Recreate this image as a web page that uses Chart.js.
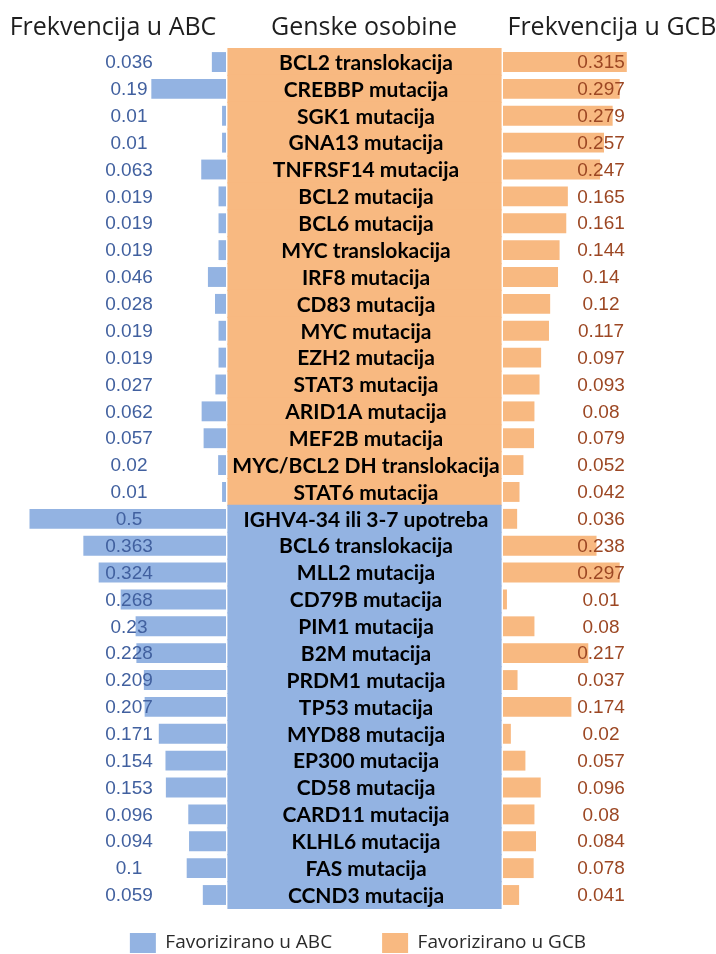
<!DOCTYPE html>
<html>
<head>
<meta charset="utf-8">
<script src="https://cdn.jsdelivr.net/npm/chart.js@4/dist/chart.umd.min.js"></script>
<style>
  html, body { margin: 0; padding: 0; background: #fff; }
</style>
</head>
<body>
<canvas id="chart" width="716" height="954"></canvas>
<script>
// genske osobine, ABC vs GCB

const headers = ['Frekvencija u ABC', 'Genske osobine', 'Frekvencija u GCB'];

const features = [
    'BCL2 translokacija', 'CREBBP mutacija', 'SGK1 mutacija', 'GNA13 mutacija',
    'TNFRSF14 mutacija', 'BCL2 mutacija', 'BCL6 mutacija', 'MYC translokacija',
    'IRF8 mutacija', 'CD83 mutacija', 'MYC mutacija', 'EZH2 mutacija',
    'STAT3 mutacija', 'ARID1A mutacija', 'MEF2B mutacija', 'MYC/BCL2 DH translokacija',
    'STAT6 mutacija', 'IGHV4-34 ili 3-7 upotreba', 'BCL6 translokacija', 'MLL2 mutacija',
    'CD79B mutacija', 'PIM1 mutacija', 'B2M mutacija', 'PRDM1 mutacija',
    'TP53 mutacija', 'MYD88 mutacija', 'EP300 mutacija', 'CD58 mutacija',
    'CARD11 mutacija', 'KLHL6 mutacija', 'FAS mutacija', 'CCND3 mutacija'
];

const freqABC = [
    0.036, 0.19, 0.01, 0.01, 0.063, 0.019, 0.019, 0.019,
    0.046, 0.028, 0.019, 0.019, 0.027, 0.062, 0.057, 0.02,
    0.01, 0.5, 0.363, 0.324, 0.268, 0.23, 0.228, 0.209,
    0.207, 0.171, 0.154, 0.153, 0.096, 0.094, 0.1, 0.059
];

const freqGCB = [
    0.315, 0.297, 0.279, 0.257, 0.247, 0.165, 0.161, 0.144,
    0.14, 0.12, 0.117, 0.097, 0.093, 0.08, 0.079, 0.052,
    0.042, 0.036, 0.238, 0.297, 0.01, 0.08, 0.217, 0.037,
    0.174, 0.02, 0.057, 0.096, 0.08, 0.084, 0.078, 0.041
];

// which group each feature is favoured in
const favoured = [
    'GCB', 'GCB', 'GCB', 'GCB', 'GCB', 'GCB', 'GCB', 'GCB',
    'GCB', 'GCB', 'GCB', 'GCB', 'GCB', 'GCB', 'GCB', 'GCB',
    'GCB', 'ABC', 'ABC', 'ABC', 'ABC', 'ABC', 'ABC', 'ABC',
    'ABC', 'ABC', 'ABC', 'ABC', 'ABC', 'ABC', 'ABC', 'ABC'
];

const legendLabels = ['Favorizirano u ABC', 'Favorizirano u GCB'];

const BLUE = '#93b3e2';
const ORANGE = '#f8b981';

// column geometry (pixels)
const COL = {
    leftEnd: 226, boxL: 228, boxR: 501, rightStart: 503,
    pxPerUnit: 393, rowTop: 48.6, rowH: 26.87,
    leftText: 129, rightText: 601, midText: 366
};

const columnsPlugin = {
    id: 'columns',
    afterLayout(chart) {
        const s = chart.scales;
        const setX = (sc, a, b) => { sc.left = a; sc.right = b; sc.width = b - a; sc.configure(); };
        setX(s.xL, COL.leftEnd - s.xL.max * COL.pxPerUnit, COL.leftEnd);
        setX(s.xM, COL.boxL, COL.boxR);
        setX(s.xR, COL.rightStart, COL.rightStart + s.xR.max * COL.pxPerUnit);
        const y = s.y;
        y.top = COL.rowTop;
        y.bottom = COL.rowTop + features.length * COL.rowH;
        y.height = y.bottom - y.top;
        y.configure();
    },
    afterDatasetsDraw(chart) {
        const ctx = chart.ctx;
        const y = chart.scales.y;
        ctx.save();

        // headers
        ctx.fillStyle = '#1e1e1e';
        ctx.font = '25px "Open Sans"';
        ctx.textAlign = 'center';
        ctx.textBaseline = 'alphabetic';
        ctx.fillText(headers[0], 113, 35);
        ctx.fillText(headers[1], 364, 35);
        ctx.fillText(headers[2], 612, 35);

        ctx.textBaseline = 'middle';
        features.forEach((f, i) => {
            const py = y.getPixelForValue(i);
            ctx.font = 'bold 21px Lato';
            ctx.fillStyle = '#000';
            ctx.fillText(f, COL.midText, py + 1);

            ctx.font = '19px "Liberation Sans"';
            ctx.fillStyle = '#41609f';
            ctx.fillText(String(freqABC[i]), COL.leftText, py + 1);
            ctx.fillStyle = '#9c4723';
            ctx.fillText(String(freqGCB[i]), COL.rightText, py + 1);
        });
        ctx.restore();
    }
};

new Chart(document.getElementById('chart'), {
    type: 'bar',
    data: {
        labels: features,
        datasets: [
            {
                label: legendLabels[0],
                data: freqABC,
                xAxisID: 'xL',
                backgroundColor: BLUE,
                grouped: false,
                barPercentage: 0.74,
                categoryPercentage: 1,
                clip: false
            },
            {
                label: 'Genske osobine',
                data: features.map(() => [0, 1]),
                xAxisID: 'xM',
                backgroundColor: favoured.map(g => (g === 'ABC' ? BLUE : ORANGE)),
                grouped: false,
                barPercentage: 1,
                categoryPercentage: 1,
                inflateAmount: 0.6,
                clip: false
            },
            {
                label: legendLabels[1],
                data: freqGCB,
                xAxisID: 'xR',
                backgroundColor: ORANGE,
                grouped: false,
                barPercentage: 0.74,
                categoryPercentage: 1,
                clip: false
            }
        ]
    },
    options: {
        indexAxis: 'y',
        responsive: false,
        animation: false,
        events: [],
        layout: { padding: { top: 0, left: 0, right: 0, bottom: -9 } },
        scales: {
            y: { type: 'category', display: false },
            xL: { type: 'linear', min: 0, max: 0.55, reverse: true, display: false },
            xM: { type: 'linear', min: 0, max: 1, display: false },
            xR: { type: 'linear', min: 0, max: 0.55, display: false }
        },
        plugins: {
            tooltip: { enabled: false },
            legend: {
                position: 'bottom',
                labels: {
                    filter: item => item.datasetIndex !== 1,
                    boxWidth: 26,
                    boxHeight: 20,
                    padding: 50,
                    color: '#2a2a2a',
                    font: { family: '"Open Sans"', size: 19 }
                }
            }
        }
    },
    plugins: [columnsPlugin]
});
</script>
</body>
</html>
